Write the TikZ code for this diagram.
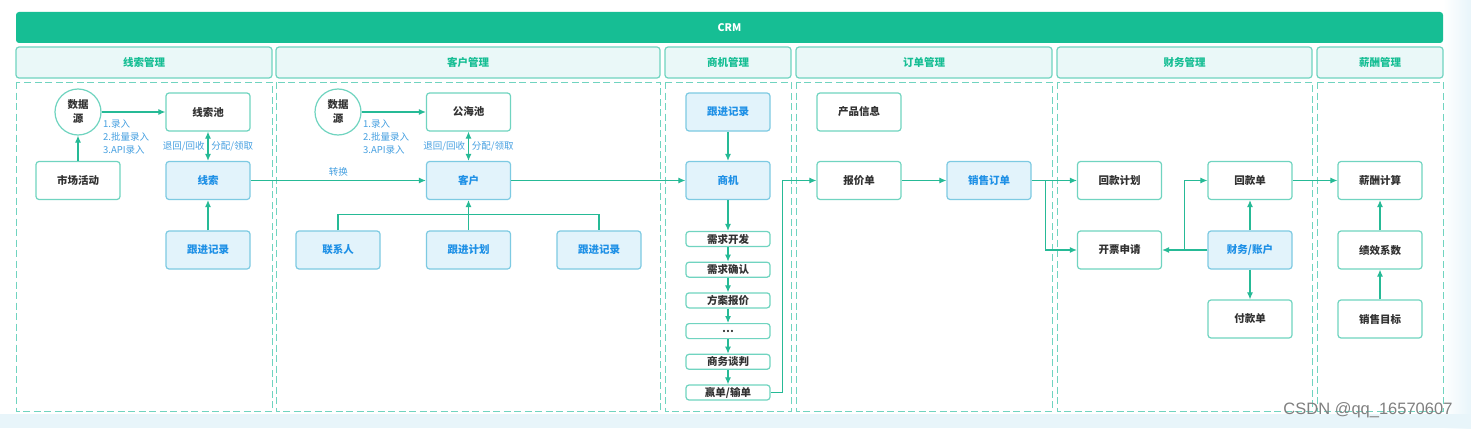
\documentclass[tikz,border=0pt]{standalone}
\usepackage{fontspec}
\setmainfont{Noto Sans CJK SC}
\newfontfamily\wmfont{Liberation Sans}
\usetikzlibrary{arrows.meta,positioning}

\definecolor{crmgreen}{RGB}{22,190,148}
\definecolor{crmline}{RGB}{112,212,192}
\definecolor{crmhi}{RGB}{226,243,251}
\definecolor{crmhiline}{RGB}{125,202,226}
\definecolor{crmblue}{RGB}{30,144,230}
\definecolor{crmlabel}{RGB}{70,160,225}
\definecolor{crmarrow}{RGB}{38,186,150}
\definecolor{crmtext}{RGB}{50,50,50}
\definecolor{crmhdr}{RGB}{234,248,248}
\definecolor{crmbg}{RGB}{232,245,250}

\begin{document}
\begin{tikzpicture}
  [x=1pt,y=-1pt,
   every node/.style={font=\fontsize{10.5}{12}\selectfont\bfseries},
   box/.style={draw=crmline,line width=1.2pt,rounded corners=3pt,fill=white,
     minimum width=84pt,minimum height=38pt,text=crmtext},
   hibox/.style={box,draw=crmhiline,fill=crmhi,text=crmblue},
   stagebox/.style={box,minimum height=15pt,inner ysep=0pt},
   src/.style={circle,draw=crmline,line width=1.2pt,fill=white,minimum size=46pt,
     inner sep=0pt,align=center,text=crmtext,font=\fontsize{10.5}{14}\selectfont\bfseries},
   lbl/.style={text=crmlabel,font=\fontsize{9.5}{13}\selectfont},
   arr/.style={draw=crmarrow,line width=1.1pt,-{Latex[length=7pt,width=6pt]}},
   arrboth/.style={arr,{Latex[length=7pt,width=6pt]}-{Latex[length=7pt,width=6pt]}},
   hdr/.style={draw=crmline,fill=crmhdr,line width=1.2pt,rounded corners=3pt},
   secframe/.style={draw=crmline,line width=1pt,dash pattern=on 7pt off 3.5pt}]

  \useasboundingbox (0,0) rectangle (1471,428);
  \fill[white] (0,0) rectangle (1471,428);
  \shade[left color=white,right color=crmbg] (1443,0) rectangle (1471,428);
  \fill[crmbg] (0,414) rectangle (1471,428);

  % top bar and sections
  \fill[crmgreen,rounded corners=3pt] (16,12) rectangle (1443,43);
  \node[text=white] (crm) at (729.5,27.5) {CRM};
  \foreach \xa/\xb/\name [count=\i] in {16/272/线索管理,276/660/客户管理,665/791/商机管理,
      796/1052/订单管理,1057/1312/财务管理,1317/1443/薪酬管理}{
    \draw[hdr] (\xa,47) rectangle (\xb,78);
    \node[text=crmgreen] (sec\i) at ({(\xa+\xb)/2},62.5) {\name};
    \draw[secframe] (\xa,82) rectangle (\xb,411);
  }

  % 线索管理
  \node[src] (src1) at (78,112) {数据\\源};
  \node[box] (pool1) at (208,112) {线索池};
  \node[box] (mkt) at (78,180.5) {市场活动};
  \node[hibox] (lead) at (208,180.5) {线索};
  \node[hibox] (rec1) at (208,250) {跟进记录};
  \node[lbl,anchor=north west,align=left,inner sep=0pt] (in1) at (103,120) {1.录入\\2.批量录入\\3.API录入};

  % 客户管理
  \node[src] (src2) at (338,112) {数据\\源};
  \node[box] (pool2) at (468.5,112) {公海池};
  \node[hibox] (cust) at (468.5,180.5) {客户};
  \node[hibox] (contact) at (338,250) {联系人};
  \node[hibox] (plan) at (468.5,250) {跟进计划};
  \node[hibox] (rec2) at (599,250) {跟进记录};
  \node[lbl,anchor=north west,align=left,inner sep=0pt] (in2) at (363,120) {1.录入\\2.批量录入\\3.API录入};

  % 商机管理
  \node[hibox] (rec3) at (728,112) {跟进记录};
  \node[hibox] (opp) at (728,180.5) {商机};
  \foreach \t [count=\i] in {需求开发,需求确认,方案报价,\ldots,商务谈判,赢单/输单}
    \node[stagebox] (st\i) at (728,{239+(\i-1)*30.7}) {\t};

  % 订单管理
  \node[box] (prod) at (859,112) {产品信息};
  \node[box] (quote) at (859,180.5) {报价单};
  \node[hibox] (order) at (989,180.5) {销售订单};

  % 财务管理
  \node[box] (payplan) at (1119.5,180.5) {回款计划};
  \node[box] (inv) at (1119.5,250) {开票申请};
  \node[box] (receipt) at (1250,180.5) {回款单};
  \node[hibox] (acct) at (1250,250) {财务/账户};
  \node[box] (pay) at (1250,319) {付款单};

  % 薪酬管理
  \node[box] (salary) at (1380,180.5) {薪酬计算};
  \node[box] (perf) at (1380,250) {绩效系数};
  \node[box] (target) at (1380,319) {销售目标};

  \draw[arr] (src1) -- (pool1);
  \draw[arr] (mkt) -- (src1);
  \draw[arrboth] (pool1) -- node[lbl] {退回/回收\hspace{7pt}分配/领取} (lead);
  \draw[arr] (rec1) -- (lead);
  \draw[arr] (lead) -- node[lbl,above] {转换} (cust);

  \draw[arr] (src2) -- (pool2);
  \draw[arrboth] (pool2) -- node[lbl] {退回/回收\hspace{7pt}分配/领取} (cust);
  \draw[crmarrow,line width=1.1pt] (contact.north) -- ++(0,-16) -| (rec2.north);
  \draw[arr] (plan) -- (cust);
  \draw[arr] (cust) -- (opp);

  \draw[arr] (rec3) -- (opp);
  \draw[arr] (opp) -- (st1);
  \foreach \a/\b in {1/2,2/3,3/4,4/5,5/6}
    \draw[arr] (st\a) -- (st\b);
  \draw[arr] (st6.east) -- ++(12,0) |- (quote.west);

  \draw[arr] (quote) -- (order);
  \draw[arr] (order) -- (payplan);
  \draw[arr] (order.east) -- ++(14,0) |- (inv.west);

  \draw[arr] (acct) -- (inv);
  \draw[arr] (acct.west) -- ++(-23,0) |- (receipt.west);
  \draw[arr] (acct) -- (receipt);
  \draw[arr] (acct) -- (pay);
  \draw[arr] (receipt) -- (salary);
  \draw[arr] (target) -- (perf);
  \draw[arr] (perf) -- (salary);

  \node[anchor=east,text=gray,font=\wmfont\fontsize{16.5}{16.5}\selectfont] (wm) at (1456,410) {CSDN @qq\_16570607};
\end{tikzpicture}
\end{document}
